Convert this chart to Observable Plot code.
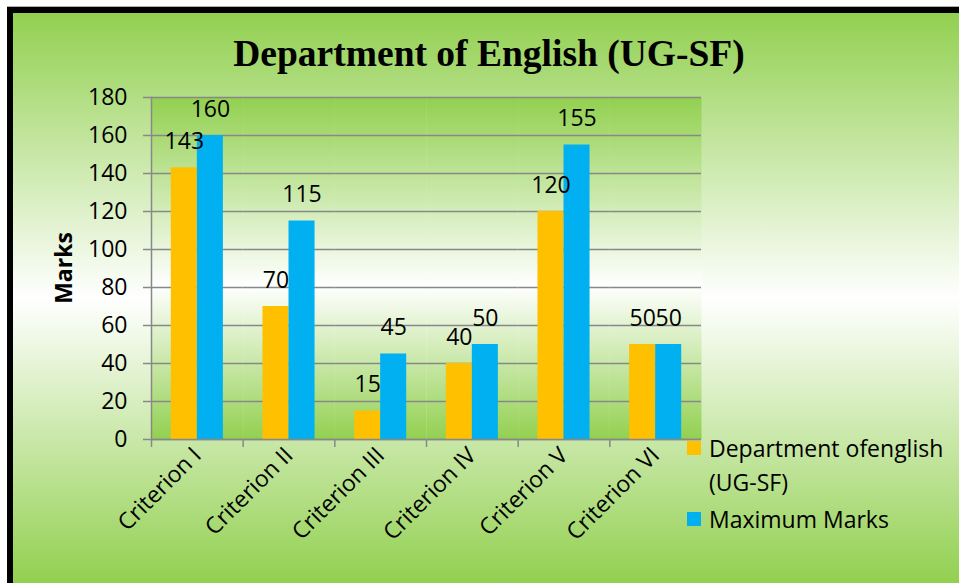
<!DOCTYPE html>
<html><head><meta charset="utf-8">
<script src="https://cdn.jsdelivr.net/npm/d3@7"></script>
<script src="https://cdn.jsdelivr.net/npm/@observablehq/plot@0.6"></script>
<style>
html,body{margin:0;padding:0;background:#fff;width:959px;height:583px;overflow:hidden;}
#chart{position:absolute;left:7px;top:7px;width:952px;height:576px;box-sizing:border-box;border-top:6px solid #000;border-left:6px solid #000;background:linear-gradient(to bottom,#92d050 0%,#ffffff 50%,#92d050 100%);box-shadow:0 -1px 0 #b0b0b0;overflow:hidden;}
#title{position:absolute;left:476px;top:22px;transform:translateX(-50%);font-family:"Liberation Serif",serif;font-weight:bold;font-size:37.5px;line-height:37.5px;white-space:nowrap;color:#000;}
#ylabel{position:absolute;left:50px;top:255px;transform:translate(-50%,-50%) rotate(-90deg);font-family:"Open Sans";font-weight:bold;font-size:23px;white-space:nowrap;color:#000;}
#legend{position:absolute;left:674px;top:418px;font-family:"Open Sans";font-size:23px;line-height:34px;color:#000;}
.item{display:flex;align-items:flex-start;margin-bottom:3px;}
.sw{width:14px;height:14px;margin-top:10px;margin-right:8px;flex:none;}
.lt{width:250px;}
#plot{position:absolute;left:0;top:0;}
</style>
</head><body>
<svg width="0" height="0" style="position:absolute"><defs>
<linearGradient id="plotGrad" x1="0" y1="0" x2="0" y2="1">
<stop offset="0" stop-color="#92d050"/><stop offset="0.55" stop-color="#ffffff"/><stop offset="1" stop-color="#92d050"/>
</linearGradient></defs></svg>
<div id="chart">
  <div id="plot"></div>
  <div id="title"></div>
  <div id="ylabel"></div>
  <div id="legend"></div>
</div>
<script>
const titleText = "Department of English (UG-SF)";
const yLabel = "Marks";
const categories = ["Criterion I","Criterion II","Criterion III","Criterion IV","Criterion V","Criterion VI"];
const seriesNames = ["Department ofenglish (UG-SF)","Maximum Marks"];
const deptValues = [143,70,15,40,120,50];
const maxValues = [160,115,45,50,155,50];
const seriesColors = ["#ffc000","#00b0f0"];
const yTicks = [0,20,40,60,80,100,120,140,160,180];

const rows = categories.flatMap((c,i)=>[
  {c, s: seriesNames[0], v: deptValues[i]},
  {c, s: seriesNames[1], v: maxValues[i]}
]);

document.getElementById("title").textContent = titleText;
document.getElementById("ylabel").textContent = yLabel;
const leg = document.getElementById("legend");
seriesNames.forEach((n,i)=>{
  const it = document.createElement("div"); it.className="item";
  const sw = document.createElement("div"); sw.className="sw"; sw.style.background=seriesColors[i];
  const lt = document.createElement("div"); lt.className="lt"; lt.textContent=n;
  it.appendChild(sw); it.appendChild(lt); leg.appendChild(it);
});

const grid = "#888888";
const chart = Plot.plot({
  width: 946, height: 570,
  marginLeft: 138, marginRight: 258, marginTop: 84, marginBottom: 144,
  style: {background: "transparent", fontFamily: "Open Sans", fontSize: "23px", overflow: "visible", color: "#000"},
  fx: {domain: categories, padding: 0, round: false, axis: null, label: null},
  x: {domain: seriesNames, paddingInner: 0, paddingOuter: 0.76, round: false, axis: null, label: null},
  y: {domain: [0,180], axis: null, label: null},
  color: {domain: seriesNames, range: seriesColors},
  marks: [
    Plot.frame({fill: "url(#plotGrad)", stroke: "none"}),
    Plot.gridY(yTicks, {stroke: grid, strokeOpacity: 1, strokeWidth: 1.5}),
    Plot.barY(rows, {fx: "c", x: "s", y: "v", fill: "s"}),
    Plot.ruleY([0], {stroke: grid, strokeWidth: 1.5}),
    Plot.text(rows, {fx: "c", x: "s", y: "v", text: d => String(d.v), dy: -26, fontSize: 23, fill: "#000"}),
    Plot.axisY(yTicks, {tickSize: 8, tickPadding: 16, fontSize: 23, stroke: grid, strokeWidth: 1.5, fill: "#000", tickFormat: d => String(d), label: null}),
    Plot.frame({anchor: "left", facetAnchor: "left", stroke: grid, strokeWidth: 1.5}),
    Plot.axisFx({anchor: "bottom", tickSize: 0, tickRotate: -45, tickPadding: 12, fontSize: 23, fill: "#000", label: null}),
    Plot.axisFx({anchor: "bottom", tickSize: 8, tickFormat: () => "", stroke: grid, strokeWidth: 1.5, dx: -45.83, label: null})
  ]
});
document.getElementById("plot").appendChild(chart);
</script>
</body></html>
